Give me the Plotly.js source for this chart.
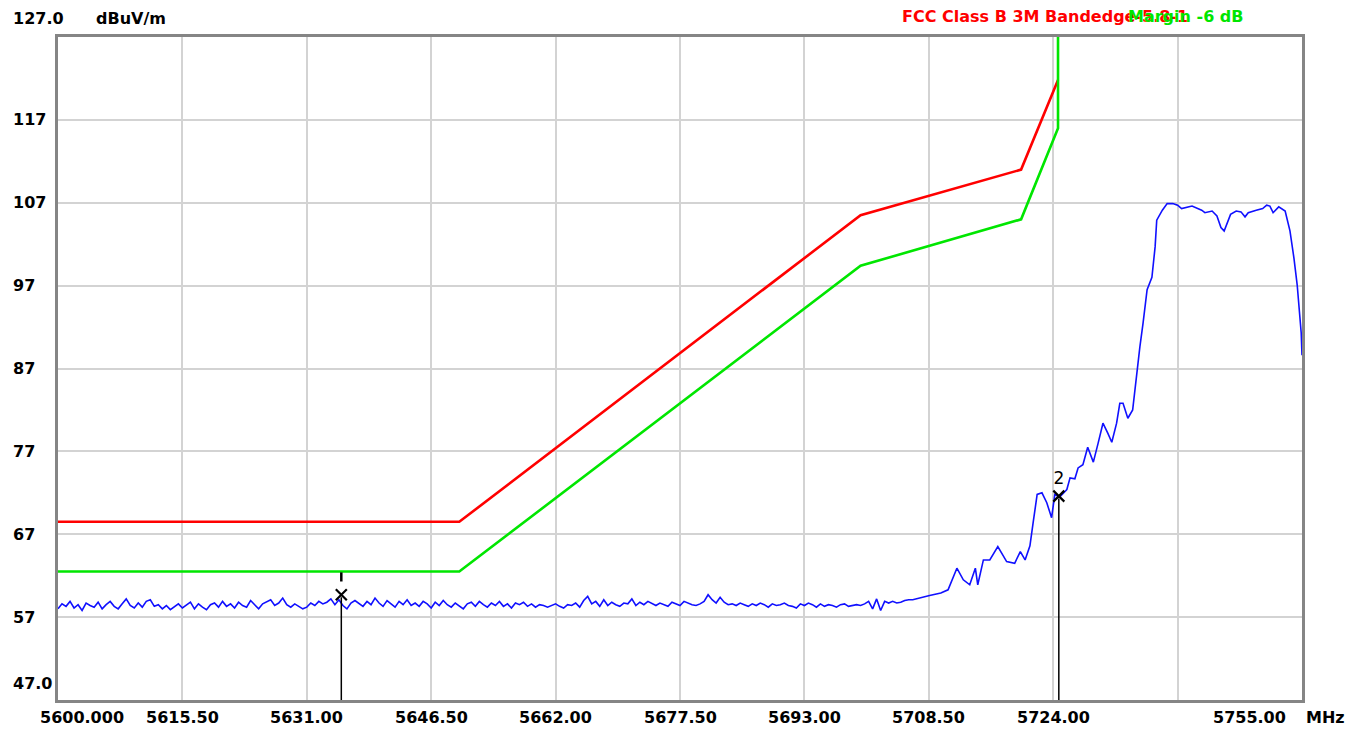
<!DOCTYPE html>
<html>
<head>
<meta charset="utf-8">
<script src="https://cdn.plot.ly/plotly-3.0.1.min.js"></script>
<style>html,body{margin:0;padding:0;background:#fff;}#chart{width:1361px;height:730px;}</style>
</head>
<body>
<div id="chart"></div>
<script>
// ---- Data ----
const noiseStartMHz = 5600;
const noiseStepMHz = 0.5;
const noiseLevel = [
  58.0,58.6,58.3,58.9,58.1,58.5,57.8,58.7,58.4,58.2,
  58.8,58.0,58.5,58.9,58.3,58.0,58.6,59.2,58.4,58.1,
  58.7,58.2,58.9,59.1,58.3,58.5,58.0,58.4,57.9,58.3,
  58.6,58.1,58.4,58.8,58.0,58.6,58.2,57.9,58.5,58.7,
  58.2,58.9,58.3,58.6,58.1,58.8,58.4,58.2,59.0,58.5,
  58.0,58.6,58.9,59.1,58.4,58.7,59.3,58.5,58.2,58.6,
  58.3,58.0,58.2,58.7,58.4,58.9,58.6,58.8,59.2,58.5,
  59.1,58.4,58.0,58.7,59.0,58.6,58.3,58.9,58.5,59.3,
  58.7,58.3,59.0,58.6,58.2,58.9,58.5,59.1,58.4,58.7,
  58.3,58.9,58.6,58.1,58.8,58.4,59.0,58.5,58.2,58.7,
  58.4,58.0,58.6,58.8,58.3,58.9,58.5,58.2,58.7,58.4,
  58.9,58.3,58.6,58.1,58.7,58.5,58.8,58.3,58.6,58.2,
  58.5,58.4,58.2,58.4,58.6,58.3,58.1,58.5,58.4,58.7,
  58.2,59.0,59.5,58.6,58.9,58.3,59.1,58.4,58.8,58.5,
  58.3,58.7,58.6,59.2,58.4,58.8,58.5,58.9,58.6,58.4,
  58.7,58.5,58.3,58.8,58.6,58.4,58.9,58.7,58.5,58.4,
  58.6,58.9,59.7,59.1,58.7,59.4,58.8,58.5,58.6,58.4,
  58.7,58.5,58.3,58.6,58.4,58.7,58.5,58.2,58.6,58.4,
  58.5,58.7,58.4,58.3,58.1,58.6,58.4,58.7,58.5,58.2,
  58.6,58.3,58.5,58.4,58.2,58.5,58.6,58.3,58.4,58.5,
  58.4,58.6,58.9,58.0,59.2,57.8,58.9,58.7,58.9,58.7,
  58.8,59.0,59.1
];
const riseFreq = [5706.5,5708.6,5710.0,5710.9,5712.0,5712.8,5713.6,5714.3,5714.6,5715.3,
  5716.1,5717.1,5718.2,5719.2,5719.9,5720.5,5721.1,5721.5,5722.0,5722.6,
  5723.2,5723.8,5724.2,5724.8,5725.7,5726.1,5726.7,5727.1,5727.7,5728.3,
  5729.0,5729.6,5730.2,5730.8,5731.3,5731.9,5732.3,5732.7,5733.3,5733.9,
  5734.4,5734.8,5735.2,5735.7,5736.3,5736.7,5736.9,5737.6,5738.2,5738.9,
  5739.5,5740.0,5741.3,5742.5,5742.9,5743.8,5744.4,5744.9,5745.3,5746.1,
  5746.8,5747.4,5747.9,5748.3,5749.3,5750.1,5750.6,5751.0,5751.4,5752.1,
  5752.9,5753.5,5754.0,5754.4,5754.9,5755.0];
const riseLevel = [59.1,59.6,59.9,60.3,62.9,61.5,60.9,62.9,60.9,63.9,
  63.9,65.5,63.7,63.5,64.9,63.9,65.6,68.4,71.8,72.0,
  70.8,69.0,71.8,71.5,72.4,73.8,73.7,75.0,75.4,77.5,
  75.7,78.0,80.4,79.2,78.1,80.4,82.8,82.8,81.0,82.0,
  86.5,89.6,92.5,96.5,98.0,101.7,104.9,106.1,106.9,106.9,
  106.7,106.3,106.6,106.1,105.8,106.0,105.4,104.0,103.6,105.6,
  106.0,105.9,105.3,105.8,106.1,106.3,106.7,106.6,105.8,106.5,
  106.0,103.6,100.3,97.1,91.3,88.6];

const limitFreq  = [5600, 5650, 5700, 5720, 5724.6];
const limitLevel = [68.5, 68.5, 105.5, 111.0, 121.8];
const marginFreq  = [5600, 5650, 5700, 5720, 5724.6, 5724.6];
const marginLevel = [62.5, 62.5, 99.4, 105.0, 116.0, 140];

const markerFreq  = [5635.3, 5724.7];
const markerLevel = [59.7, 71.6];
const markerLabel = ['', '2'];

const xTickVals = [5600, 5615.5, 5631, 5646.5, 5662, 5677.5, 5693, 5708.5, 5724, 5739.5, 5755];
const xTickText = ['5600.000','5615.50','5631.00','5646.50','5662.00','5677.50','5693.00','5708.50','5724.00','','5755.00'];
const yTickVals = [47, 57, 67, 77, 87, 97, 107, 117, 127];
const yTickText = ['47.0','57','67','77','87','97','107','117','127.0'];

const limitName = 'FCC Class B 3M Bandedge-5.8-1';
const marginName = 'Margin -6 dB';
const yUnit = 'dBuV/m';
const xUnit = 'MHz';

// ---- Build ----
const scanFreq = noiseLevel.map((_, i) => noiseStartMHz + i * noiseStepMHz).concat(riseFreq);
const scanLevel = noiseLevel.concat(riseLevel);

const FONT = 'DejaVu Sans, Liberation Sans, sans-serif';
const lblFont = {family: FONT, size: 16, color: '#000', weight: 'bold'};

const traces = [
  {x: limitFreq, y: limitLevel, mode: 'lines', line: {color: '#ff0000', width: 2.6}, hoverinfo: 'skip'},
  {x: marginFreq, y: marginLevel, mode: 'lines', line: {color: '#00e600', width: 2.6}, hoverinfo: 'skip'},
  {x: scanFreq, y: scanLevel, mode: 'lines', line: {color: '#1010ff', width: 1.6}, hoverinfo: 'skip'},
  {x: markerFreq, y: markerLevel, mode: 'markers+text', text: markerLabel, textposition: 'top center',
   textfont: {family: FONT, size: 17, color: '#000'},
   marker: {symbol: 'x-thin-open', size: 11, color: '#000', line: {color: '#000', width: 2.2}},
   hoverinfo: 'skip', cliponaxis: false}
];

const shapes = [];
markerFreq.forEach((f, i) => {
  shapes.push({type: 'line', xref: 'x', yref: 'y', x0: f, x1: f, y0: 47, y1: markerLevel[i] - 0.3,
    line: {color: '#000', width: 1.5}});
});
shapes.push({type: 'line', xref: 'x', yref: 'y', x0: markerFreq[0], x1: markerFreq[0],
  y0: markerLevel[0] + 1.6, y1: markerLevel[0] + 2.7, line: {color: '#000', width: 2.5}});

const annotations = [];
xTickVals.forEach((v, i) => {
  if (!xTickText[i]) return;
  let anchor = 'center', shift = 0;
  if (i === 0) { anchor = 'left'; shift = -20; }
  if (i === xTickVals.length - 1) { anchor = 'right'; shift = -14; }
  annotations.push({x: v, y: 0, xref: 'x', yref: 'paper', text: xTickText[i], showarrow: false,
    xanchor: anchor, yanchor: 'top', xshift: shift, yshift: -6, font: lblFont});
});
annotations.push({x: 1, y: 0, xref: 'paper', yref: 'paper', text: xUnit, showarrow: false,
  xanchor: 'left', yanchor: 'top', xshift: 2, yshift: -6, font: lblFont});
yTickVals.forEach((v, i) => {
  let ys = 0;
  if (i === 0) ys = 17;
  if (i === yTickVals.length - 1) ys = 19;
  annotations.push({x: 0, y: v, xref: 'paper', yref: 'y', text: yTickText[i], showarrow: false,
    xanchor: 'left', yanchor: 'middle', xshift: -47, yshift: ys, font: lblFont});
});
annotations.push({x: 0, y: 127, xref: 'paper', yref: 'y', text: yUnit, showarrow: false,
  xanchor: 'left', yanchor: 'middle', xshift: 36, yshift: 19, font: lblFont});
annotations.push({x: 5724.6, y: 127, xref: 'x', yref: 'y', text: limitName, showarrow: false,
  xanchor: 'left', yanchor: 'middle', xshift: -158, yshift: 21, font: Object.assign({}, lblFont, {color: '#ff0000'})});
annotations.push({x: 5724.6, y: 127, xref: 'x', yref: 'y', text: marginName, showarrow: false,
  xanchor: 'left', yanchor: 'middle', xshift: 68, yshift: 21, font: Object.assign({}, lblFont, {color: '#00e600'})});

const layout = {
  width: 1361, height: 730,
  margin: {l: 58, r: 59, t: 37, b: 30},
  paper_bgcolor: '#ffffff', plot_bgcolor: '#ffffff',
  showlegend: false,
  xaxis: {range: [5600, 5755], tickvals: xTickVals, showticklabels: false, ticks: '',
    showgrid: true, gridcolor: '#d3d3d3', gridwidth: 2, zeroline: false,
    showline: true, mirror: true, linecolor: '#858585', linewidth: 3},
  yaxis: {range: [47, 127], tickvals: yTickVals, showticklabels: false, ticks: '',
    showgrid: true, gridcolor: '#d3d3d3', gridwidth: 2, zeroline: false,
    showline: true, mirror: true, linecolor: '#858585', linewidth: 3},
  shapes: shapes,
  annotations: annotations
};

Plotly.newPlot('chart', traces, layout, {displayModeBar: false, staticPlot: true});
</script>
</body>
</html>
